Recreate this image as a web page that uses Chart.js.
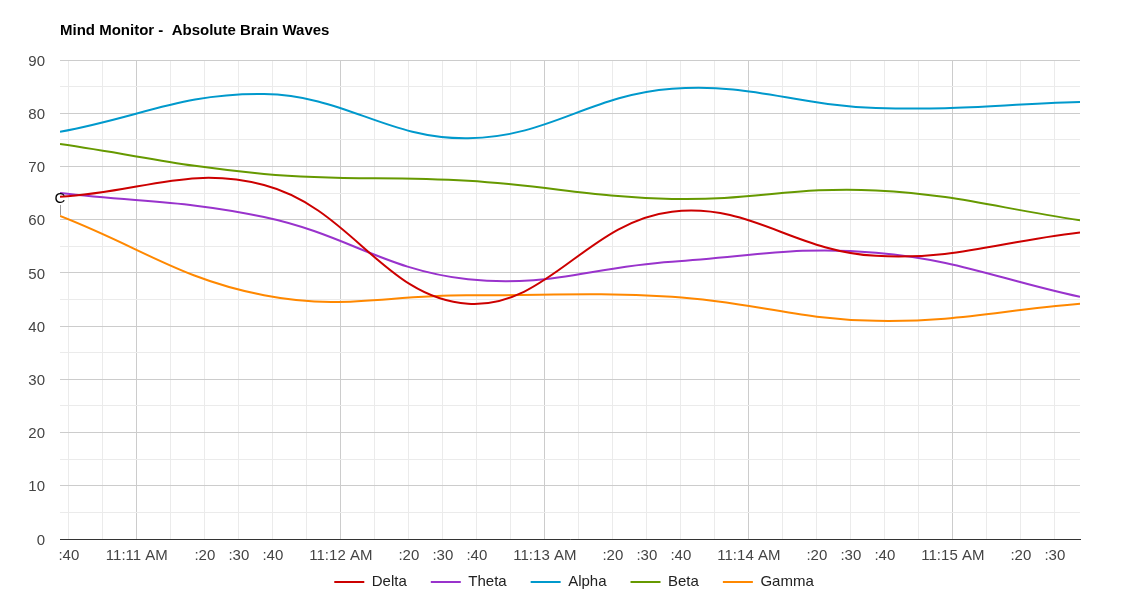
<!DOCTYPE html>
<html>
<head>
<meta charset="utf-8">
<script src="https://cdn.jsdelivr.net/npm/chart.js@4.4.1/dist/chart.umd.min.js"></script>
<style>
  html, body { margin: 0; padding: 0; background: #ffffff; }
  #wrap { width: 1140px; height: 600px; }
</style>
</head>
<body>
<div id="wrap"><canvas id="c" width="1140" height="600"></canvas></div>
<script>
// ---- Data ----
const chartTitle = 'Mind Monitor -  Absolute Brain Waves';
const times = ['11:10:37.4', '11:11:37.4', '11:12:37.4', '11:13:37.4', '11:14:37.4', '11:15:37.4'];
const delta = [64.3, 66.5, 44.2, 61.5, 53.2, 57.6];
const theta = [65.0, 60.5, 48.8, 52.1, 53.8, 45.5];
const alpha = [76.5, 83.6, 75.3, 84.6, 81.0, 82.1];
const beta  = [74.2, 68.6, 67.3, 63.9, 65.5, 59.9];
const gamma = [60.7, 45.8, 45.8, 45.5, 41.0, 44.2];
const seriesNames = ['Delta', 'Theta', 'Alpha', 'Beta', 'Gamma'];
const seriesColors = ['#cc0000', '#9933cc', '#0099cc', '#669900', '#ff8800'];
const annotations = [{ series: 'Gamma', index: 0, text: 'C' }];

// x tick labels, one per 10 seconds starting at xTickStart ('' = not shown)
const xTickStart = '11:10:40';
const xTickStep = 10;
const xTickLabels = [':40', '', '11:11 AM', '', ':20', ':30', ':40', '', '11:12 AM', '',
                     ':20', ':30', ':40', '', '11:13 AM', '', ':20', ':30', ':40', '',
                     '11:14 AM', '', ':20', ':30', ':40', '', '11:15 AM', '', ':20', ':30'];
const yTickValues = [0, 10, 20, 30, 40, 50, 60, 70, 80, 90];

// ---- helpers ----
function toSec(s) {
  const p = s.split(':');
  return (+p[0]) * 3600 + (+p[1]) * 60 + parseFloat(p[2]);
}
const xs = times.map(toSec);
const seriesValues = [delta, theta, alpha, beta, gamma];
const tickStartSec = toSec(xTickStart);
const xTicks = xTickLabels.map((l, i) => ({ value: tickStartSec + i * xTickStep, label: l }));
const FONT = "'Liberation Sans', Arial, sans-serif";

const datasets = seriesNames.map((n, k) => ({
  label: n,
  data: xs.map((x, i) => ({ x: x, y: seriesValues[k][i] })),
  borderColor: seriesColors[k],
  backgroundColor: seriesColors[k],
  borderWidth: 2,
  pointRadius: 0,
  pointHoverRadius: 0,
  tension: 0.4,
  fill: false
}));

const titlePlugin = {
  id: 'leftTitle',
  afterDraw(chart) {
    const ctx = chart.ctx;
    ctx.save();
    ctx.font = 'bold 15px ' + FONT;
    ctx.fillStyle = '#000000';
    ctx.textAlign = 'left';
    ctx.textBaseline = 'alphabetic';
    ctx.fillText(chartTitle, chart.chartArea.left, 35);
    ctx.restore();
  }
};

// place the legend row below the axis labels
const legendPlacePlugin = {
  id: 'legendPlace',
  afterLayout(chart) {
    const lg = chart.legend;
    if (!lg) return;
    lg.top = chart.chartArea.bottom + 11.5;
    lg.bottom = chart.height;
    lg.height = lg.bottom - lg.top;
    lg.left = 8;
    lg.right = chart.width;
  }
};

const annotationPlugin = {
  id: 'pointAnnotations',
  afterDatasetsDraw(chart) {
    const ctx = chart.ctx;
    annotations.forEach(a => {
      const di = seriesNames.indexOf(a.series);
      const meta = chart.getDatasetMeta(di);
      const pt = meta.data[a.index];
      if (!pt) return;
      ctx.save();
      ctx.strokeStyle = '#999999';
      ctx.lineWidth = 1;
      ctx.beginPath();
      ctx.moveTo(pt.x + 0.5, pt.y - 1);
      ctx.lineTo(pt.x + 0.5, pt.y - 11);
      ctx.stroke();
      ctx.font = '15px ' + FONT;
      ctx.fillStyle = '#000000';
      ctx.textAlign = 'center';
      ctx.textBaseline = 'alphabetic';
      ctx.fillText(a.text, pt.x, pt.y - 13);
      ctx.restore();
    });
  }
};

new Chart(document.getElementById('c'), {
  type: 'line',
  data: { datasets },
  plugins: [titlePlugin, annotationPlugin, legendPlacePlugin],
  options: {
    responsive: false,
    animation: false,
    devicePixelRatio: 1,
    layout: { padding: { left: 0, right: 0, top: 60, bottom: 0 } },
    interaction: { mode: 'nearest', intersect: false },
    plugins: {
      title: { display: false },
      tooltip: { enabled: false },
      legend: {
        position: 'bottom',
        align: 'center',
        maxHeight: 31,
        labels: {
          font: { family: FONT, size: 15 },
          color: '#222222',
          boxWidth: 30,
          boxHeight: 2,
          padding: 24,
          generateLabels(chart) {
            const items = Chart.defaults.plugins.legend.labels.generateLabels(chart);
            items.forEach((it, i) => {
              it.fillStyle = seriesColors[i];
              it.strokeStyle = 'rgba(0,0,0,0)';
              it.lineWidth = 0;
            });
            return items;
          }
        }
      }
    },
    scales: {
      x: {
        type: 'linear',
        min: xs[0],
        max: xs[xs.length - 1],
        afterBuildTicks(scale) { scale.ticks = xTicks.map(t => ({ value: t.value })); },
        afterFit(scale) { scale.height = 30; },
        ticks: {
          autoSkip: false,
          maxRotation: 0,
          minRotation: 0,
          padding: 8,
          color: '#444444',
          font: { family: FONT, size: 15 },
          callback(value) {
            const t = xTicks.find(t => Math.abs(t.value - value) < 0.01);
            return t ? t.label : '';
          }
        },
        grid: {
          drawTicks: false,
          color(ctx) {
            const t = xTicks.find(t => ctx.tick && Math.abs(t.value - ctx.tick.value) < 0.01);
            return t && t.label.indexOf('AM') >= 0 ? '#cccccc' : '#ebebeb';
          },
          lineWidth: 1
        },
        border: { display: true, color: '#333333', width: 1 }
      },
      y: {
        type: 'linear',
        position: 'left',
        min: 0,
        max: 90,
        afterBuildTicks(scale) {
          const t = [];
          yTickValues.forEach((v, i) => {
            t.push({ value: v });
            if (i < yTickValues.length - 1) t.push({ value: (v + yTickValues[i + 1]) / 2 });
          });
          scale.ticks = t;
        },
        afterFit(scale) { scale.width = 60; },
        ticks: {
          padding: 15,
          labelOffset: 1.5,
          color: '#444444',
          font: { family: FONT, size: 15 },
          callback(value) { return yTickValues.indexOf(value) >= 0 ? String(value) : ''; }
        },
        grid: {
          drawTicks: false,
          color(ctx) {
            return ctx.tick && yTickValues.indexOf(ctx.tick.value) >= 0 ? '#cccccc' : '#ebebeb';
          },
          lineWidth: 1
        },
        border: { display: false }
      },
      yRight: {
        type: 'linear',
        position: 'right',
        min: 0,
        max: 90,
        afterFit(scale) { scale.width = 60; },
        ticks: { display: false },
        grid: { display: false, drawTicks: false },
        border: { display: false }
      }
    }
  }
});
</script>
</body>
</html>
